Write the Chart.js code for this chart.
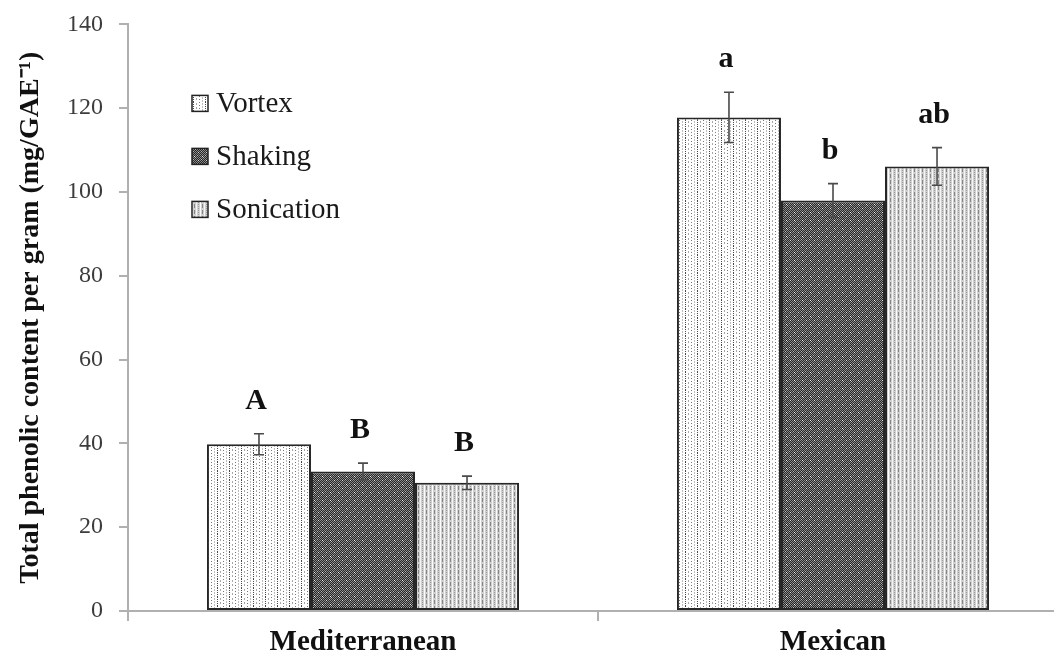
<!DOCTYPE html>
<html>
<head>
<meta charset="utf-8">
<script src="https://cdn.jsdelivr.net/npm/chart.js@4.4.1/dist/chart.umd.min.js"></script>
<style>
  html, body { margin: 0; padding: 0; background: #ffffff; overflow: hidden; }
  #wrap { width: 1054px; height: 654px; overflow: hidden; }
  canvas { display: block; margin-top: -6px; }
</style>
</head>
<body>
<div id="wrap"><canvas id="chart" width="1070" height="660"></canvas></div>
<script>
// Sample origins and extraction methods
const categories = ['Mediterranean', 'Mexican'];
const methods = ['Vortex', 'Shaking', 'Sonication'];

// Mean total phenolic content (mg/GAE per gram) and standard error
const vortex = [39.8, 117.8];
const shaking = [33.3, 98.0];
const sonication = [30.6, 106.1];
const vortexErr = [2.5, 6.0];
const shakingErr = [2.0, 4.0];
const sonicationErr = [1.6, 4.5];

// Significance letters shown over each bar
const vortexLetters = ['A', 'a'];
const shakingLetters = ['B', 'b'];
const sonicationLetters = ['B', 'ab'];

// Y axis ticks
const yMin = 0, yMax = 140, yStep = 20;

const SERIF = '"Liberation Serif", "Times New Roman", Times, serif';

// Hatch-like fills built from small pixel tiles
function makePattern(w, h, base, pixels) {
  const c = document.createElement('canvas');
  c.width = w; c.height = h;
  const g = c.getContext('2d');
  g.fillStyle = base;
  g.fillRect(0, 0, w, h);
  pixels.forEach(([x, y, col]) => { g.fillStyle = col; g.fillRect(x, y, 1, 1); });
  return g.createPattern(c, 'repeat');
}

function dottedWhite() {
  const px = [];
  for (let y = 0; y < 9; y += 2) px.push([1, y, '#4a4a4a']);
  [1, 2, 5, 6].forEach(y => px.push([4, y, '#a8a8a8']));
  [0, 3, 6].forEach(y => px.push([7, y, '#777']));
  [1, 2, 4, 5, 7, 8].forEach(y => px.push([10, y, '#bdbdbd']));
  return makePattern(12, 9, '#ffffff', px);
}

function darkCheck() {
  const px = [];
  for (let y = 0; y < 8; y++) {
    for (let x = 0; x < 8; x++) {
      if ((x + y) % 2 === 0) px.push([x, y, '#8a8a8a']);
    }
  }
  px.push([2, 2, '#ececec'], [6, 6, '#d8d8d8'], [5, 1, '#b4b4b4'], [1, 5, '#b4b4b4'], [3, 3, '#c0c0c0']);
  return makePattern(8, 8, '#262626', px);
}

function lightStripes() {
  const px = [];
  for (let y = 0; y < 6; y++) {
    px.push([0, y, '#ffffff']);
    px.push([4, y, '#f4f4f4']);
    if (y < 4) px.push([2, y, '#858585']);
    if (y % 2 === 0) px.push([6, y, '#989898']);
  }
  return makePattern(8, 6, '#d0d0d0', px);
}

const fills = [dottedWhite(), darkCheck(), lightStripes()];
const seriesValues = [vortex, shaking, sonication];
const seriesErrors = [vortexErr, shakingErr, sonicationErr];
const seriesLetters = [vortexLetters, shakingLetters, sonicationLetters];

const datasets = methods.map((name, i) => ({
  label: name,
  data: seriesValues[i],
  errors: seriesErrors[i],
  letters: seriesLetters[i],
  backgroundColor: fills[i],
  borderColor: '#262626',
  borderWidth: 2,
  borderSkipped: false,
  barPercentage: 1.0,
  categoryPercentage: 0.664
}));

// Error bars and letters drawn from each dataset's values
const errorBarPlugin = {
  id: 'errorBars',
  afterDatasetsDraw(chart) {
    const ctx = chart.ctx;
    const y = chart.scales.y;
    ctx.save();
    chart.data.datasets.forEach((ds, di) => {
      const meta = chart.getDatasetMeta(di);
      meta.data.forEach((bar, idx) => {
        const v = ds.data[idx], e = ds.errors[idx];
        const top = y.getPixelForValue(v + e);
        const bot = y.getPixelForValue(v - e);
        const x = bar.x;
        ctx.strokeStyle = '#4a4a4a';
        ctx.lineWidth = 1.6;
        ctx.beginPath();
        ctx.moveTo(x, top); ctx.lineTo(x, bot);
        ctx.moveTo(x - 5, top); ctx.lineTo(x + 5, top);
        ctx.moveTo(x - 5, bot); ctx.lineTo(x + 5, bot);
        ctx.stroke();

        ctx.fillStyle = '#111111';
        ctx.font = 'bold 30px ' + SERIF;
        ctx.textAlign = 'center';
        ctx.textBaseline = 'alphabetic';
        ctx.fillText(ds.letters[idx], x - 3, top - 25);
      });
    });
    ctx.restore();
  }
};

// Legend placed inside the plot area, top-left
const innerLegendPlugin = {
  id: 'innerLegend',
  afterDraw(chart) {
    const ctx = chart.ctx;
    const x0 = 192, y0 = chart.chartArea.top + 79, gap = 53, box = 16;
    ctx.save();
    chart.data.datasets.forEach((ds, i) => {
      const cy = y0 + i * gap;
      ctx.fillStyle = ds.backgroundColor;
      ctx.fillRect(x0, cy - box / 2, box, box);
      ctx.strokeStyle = '#222';
      ctx.lineWidth = 1.5;
      ctx.strokeRect(x0, cy - box / 2, box, box);
      ctx.fillStyle = '#1a1a1a';
      ctx.font = '29px ' + SERIF;
      ctx.textAlign = 'left';
      ctx.textBaseline = 'middle';
      ctx.fillText(ds.label, x0 + 24, cy + 1);
    });
    ctx.restore();
  }
};

new Chart(document.getElementById('chart'), {
  type: 'bar',
  data: { labels: categories, datasets },
  options: {
    responsive: false,
    animation: false,
    devicePixelRatio: 1,
    layout: { padding: { top: 14, right: 2, left: 0, bottom: 0 } },
    plugins: {
      legend: { display: false },
      tooltip: { enabled: false }
    },
    scales: {
      x: {
        offset: true,
        grid: {
          offset: true,
          drawOnChartArea: false,
          drawTicks: true,
          tickLength: 10,
          color: '#b0b0b0',
          lineWidth: 2
        },
        border: { display: true, color: '#b0b0b0', width: 2 },
        ticks: {
          color: '#111',
          padding: 4,
          font: { family: SERIF, size: 29, weight: 'bold' }
        },
        afterFit(scale) { scale.height = 43; }
      },
      y: {
        min: yMin,
        max: yMax,
        grid: {
          drawOnChartArea: false,
          drawTicks: true,
          tickLength: 9,
          color: '#b0b0b0',
          lineWidth: 2
        },
        border: { display: true, color: '#b0b0b0', width: 2 },
        ticks: {
          stepSize: yStep,
          color: '#3c3c3c',
          padding: 16,
          font: { family: SERIF, size: 24 }
        },
        title: {
          display: true,
          text: 'Total phenolic content per gram (mg/GAE\u207B\u00B9)',
          color: '#111',
          padding: { top: 14, bottom: 0 },
          font: { family: SERIF, size: 28, weight: 'bold' }
        },
        afterFit(scale) { scale.width = 128; }
      }
    }
  },
  plugins: [errorBarPlugin, innerLegendPlugin]
});
</script>
</body>
</html>
